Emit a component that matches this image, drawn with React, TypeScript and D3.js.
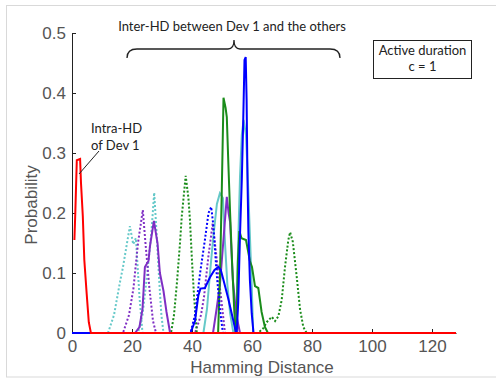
import React, { useRef, useEffect } from "react";
import * as d3 from "d3";

// [hamming distance, probability]; zeros elsewhere
const intraDev1 = [[0.8, 0.155], [1.1, 0.2], [1.6, 0.288], [2.7, 0.29], [3, 0.25], [3.6, 0.195], [4.1, 0.122], [4.9, 0.065], [5.6, 0.018], [6.3, 0]];

const cyanDot1 = [[12, 0], [14, 0.03], [16, 0.085], [17, 0.11], [18, 0.14], [19.3, 0.178], [20.4, 0.148], [21.3, 0.158], [22, 0.1], [22.5, 0.06], [23.5, 0]];
const cyanDot2 = [[22, 0], [23.5, 0.03], [25, 0.095], [26.5, 0.17], [27.4, 0.234], [28.2, 0.166], [29.1, 0.085], [29.8, 0.03], [30.5, 0]];
const purpleDot1 = [[17, 0], [19, 0.03], [20.5, 0.075], [22, 0.15], [23.6, 0.205], [24.4, 0.155], [25.8, 0.075], [27, 0.02], [28, 0]];
const purpleDot2 = [[41, 0], [43, 0.03], [44, 0.06], [45.4, 0.125], [46.9, 0.183], [48.2, 0.125], [49.2, 0.08], [50, 0.045], [51, 0]];
const greenDot1 = [[33, 0], [34, 0.03], [35, 0.085], [36, 0.15], [36.6, 0.195], [37.9, 0.262], [38.8, 0.225], [39.3, 0.19], [40, 0.12], [40.7, 0.06], [41.6, 0]];
const greenDot2 = [[62, 0], [63.8, 0.008], [64.9, 0.018], [66.6, 0.027], [67.7, 0.02], [68.8, 0.028], [69.9, 0.055], [71, 0.11], [72.1, 0.155], [72.7, 0.168], [73.6, 0.152], [74.9, 0.094], [76, 0.04], [77.1, 0.01], [78.2, 0]];
const blueDot1 = [[39.5, 0], [41, 0.03], [42.7, 0.1], [44.3, 0.155], [45.5, 0.2], [46.4, 0.21], [47.1, 0.18], [48.2, 0.1], [49.3, 0.04], [50.3, 0]];

const purpleSolid1 = [[21, 0], [22.5, 0.01], [23.5, 0.04], [24.3, 0.11], [25.5, 0.12], [26, 0.145], [27.3, 0.187], [28.5, 0.15], [29.3, 0.1], [30.5, 0.07], [31.5, 0.035], [32.7, 0]];
const purpleSolid2 = [[47, 0], [48.2, 0.04], [49.3, 0.08], [50.4, 0.15], [51.6, 0.227], [52.2, 0.2], [52.7, 0.185], [53.6, 0.09], [54.7, 0.032], [56, 0]];
const cyanSolid1 = [[43.8, 0], [45, 0.04], [46, 0.1], [47.1, 0.16], [48.3, 0.215], [49.3, 0.233], [50.3, 0.225], [51, 0.15], [51.8, 0.08], [52.7, 0.033], [53.8, 0]];
const cyanSolid2 = [[54.3, 0], [54.9, 0.05], [55.4, 0.15], [56, 0.26], [56.6, 0.33], [57.2, 0.355], [58, 0.33], [58.6, 0.26], [59.1, 0.19], [59.9, 0.08], [60.4, 0]];
const greenSolid1 = [[48.7, 0], [49.3, 0.09], [49.9, 0.23], [50.2, 0.31], [50.5, 0.392], [51.2, 0.375], [51.6, 0.36], [52.1, 0.285], [52.7, 0.2], [53.4, 0.113], [54.1, 0.036], [54.6, 0]];
const greenSolid2 = [[54.8, 0], [55.3, 0.12], [55.8, 0.17], [56.5, 0.158], [58, 0.155], [59.3, 0.12], [60, 0.11], [61, 0.078], [62.1, 0.075], [63.2, 0.035], [64.3, 0.01], [65.3, 0]];
const blueSolid1 = [[39.5, 0], [41, 0.02], [42.1, 0.062], [42.8, 0.074], [44.3, 0.075], [46, 0.093], [47.5, 0.105], [48.8, 0.11], [49.6, 0.105], [50.4, 0.09], [52.1, 0.057], [53.8, 0.02], [54.7, 0]];
const blueSolid2 = [[54.9, 0], [55.4, 0.05], [56, 0.163], [56.6, 0.255], [57.1, 0.36], [57.5, 0.455], [57.9, 0.46], [58.2, 0.39], [58.5, 0.255], [58.8, 0.168], [59.3, 0.088], [59.9, 0.033], [60.5, 0]];

const xTicks = [0, 20, 40, 60, 80, 100, 120];
const yTicks = [0, 0.1, 0.2, 0.3, 0.4, 0.5];

const CYAN = "#66c9c9";
const PURPLE = "#7f2fc4";
const GREEN = "#1a8c1a";
const BLUE = "#0000ff";

export default function App() {
  const ref = useRef<SVGSVGElement | null>(null);

  useEffect(() => {
    const svg = d3.select(ref.current);
    svg.selectAll("*").remove();

    const x = d3.scaleLinear().domain([0, 128]).range([72, 456]);
    const y = d3.scaleLinear().domain([0, 0.5]).range([333, 33]);

    // light frame around the figure
    svg.append("rect")
      .attr("x", 6.5).attr("y", 5.5).attr("width", 500).attr("height", 371.5)
      .attr("fill", "none").attr("stroke", "#d9d9d9");

    // y axis
    const ya = svg.append("g")
      .attr("transform", `translate(${x(0)},0)`)
      .call(d3.axisLeft(y).tickValues(yTicks).tickSizeInner(-4).tickSizeOuter(0).tickPadding(6).tickFormat(d3.format("")));
    ya.select(".domain").attr("stroke", "#222");
    ya.selectAll("line").attr("stroke", "#222");
    ya.selectAll("text").attr("font-family", "Liberation Sans").attr("font-size", 17).attr("fill", "#555");

    // x axis
    const xa = svg.append("g")
      .attr("transform", `translate(0,${y(0)})`)
      .call(d3.axisBottom(x).tickValues(xTicks).tickSizeInner(-4).tickSizeOuter(0).tickPadding(7));
    xa.select(".domain").attr("stroke", "#222");
    xa.selectAll("line").attr("stroke", "#222");
    xa.selectAll("text").attr("font-family", "Liberation Sans").attr("font-size", 17).attr("fill", "#555");

    svg.append("text")
      .attr("transform", "rotate(-90)")
      .attr("x", -205).attr("y", 37)
      .attr("text-anchor", "middle")
      .attr("font-family", "Liberation Sans").attr("font-size", 17).attr("fill", "#555")
      .text("Probability");

    svg.append("text")
      .attr("x", 262).attr("y", 373)
      .attr("text-anchor", "middle")
      .attr("font-family", "Liberation Sans").attr("font-size", 17).attr("fill", "#555")
      .text("Hamming Distance");

    const line = d3.line<number[]>().x((d) => x(d[0])).y((d) => y(d[1]));
    const full = (pts: number[][]) => [[0, 0], ...pts, [128, 0]];

    const series = [
      { data: cyanDot1, color: CYAN, dash: "2,2" },
      { data: cyanDot2, color: CYAN, dash: "2,2" },
      { data: purpleDot1, color: PURPLE, dash: "2,2" },
      { data: purpleDot2, color: PURPLE, dash: "2,2" },
      { data: greenDot1, color: GREEN, dash: "2,2" },
      { data: greenDot2, color: GREEN, dash: "2,2" },
      { data: cyanSolid1, color: CYAN, dash: null },
      { data: cyanSolid2, color: CYAN, dash: null },
      { data: purpleSolid1, color: PURPLE, dash: null },
      { data: purpleSolid2, color: PURPLE, dash: null },
      { data: greenSolid1, color: GREEN, dash: null },
      { data: greenSolid2, color: GREEN, dash: null },
      { data: blueDot1, color: BLUE, dash: "2,2" },
      { data: blueSolid1, color: BLUE, dash: null },
      { data: blueSolid2, color: BLUE, dash: null },
    ];

    svg.append("g").selectAll("path")
      .data(series)
      .enter()
      .append("path")
      .attr("d", (s) => line(full(s.data)))
      .attr("fill", "none")
      .attr("stroke", (s) => s.color)
      .attr("stroke-width", 2)
      .attr("stroke-dasharray", (s) => s.dash);

    // intra-HD of Dev 1 on top
    svg.append("path")
      .attr("d", line([...intraDev1, [128, 0]]))
      .attr("fill", "none")
      .attr("stroke", "#ff0000")
      .attr("stroke-width", 2);

    // annotations
    const note = "Lato";
    svg.append("text")
      .attr("x", 232).attr("y", 31)
      .attr("text-anchor", "middle")
      .attr("font-family", note).attr("font-size", 13).attr("fill", "#222")
      .text("Inter-HD between Dev 1 and the others");

    svg.append("path")
      .attr("d", "M127,58 Q127,49 137,49 L228,49 Q234,49 234,40 Q234,49 240,49 L330,49 Q340,49 340,58")
      .attr("fill", "none").attr("stroke", "#222").attr("stroke-width", 1.3);

    svg.append("rect")
      .attr("x", 373.5).attr("y", 40.5).attr("width", 98).attr("height", 38)
      .attr("fill", "#fff").attr("stroke", "#222");
    svg.append("text")
      .attr("x", 422.5).attr("y", 55)
      .attr("text-anchor", "middle")
      .attr("font-family", note).attr("font-size", 13).attr("fill", "#222")
      .text("Active duration");
    svg.append("text")
      .attr("x", 422.5).attr("y", 71)
      .attr("text-anchor", "middle")
      .attr("font-family", note).attr("font-size", 13).attr("fill", "#222")
      .text("c = 1");

    svg.append("text")
      .attr("x", 91).attr("y", 133)
      .attr("font-family", note).attr("font-size", 13).attr("fill", "#222")
      .text("Intra-HD");
    svg.append("text")
      .attr("x", 91).attr("y", 150)
      .attr("font-family", note).attr("font-size", 13).attr("fill", "#222")
      .text("of Dev 1");
    svg.append("line")
      .attr("x1", 99).attr("y1", 151).attr("x2", 79).attr("y2", 174)
      .attr("stroke", "#222").attr("stroke-width", 1);
  }, []);

  return (
    <svg
      ref={ref}
      width={496}
      height={379}
      style={{ position: "absolute", left: 0, top: 0, background: "#fff" }}
    />
  );
}
